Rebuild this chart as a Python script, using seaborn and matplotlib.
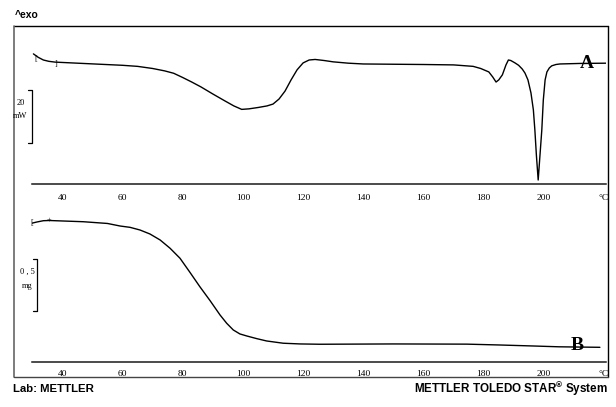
import matplotlib
matplotlib.use("Agg")
import matplotlib.pyplot as plt
import seaborn as sns
import pandas as pd
from matplotlib.lines import Line2D

# ---- data ----
dsc_temp = [30.4, 32, 33.7, 35.5, 37.6, 45, 52.5, 60, 65, 70,
            74, 77, 80, 83, 86, 90, 94, 97, 99.6, 102,
            105, 108, 110, 112, 114, 116, 118, 120, 122, 124,
            127, 130, 135, 140, 150, 160, 170, 176.5, 179, 181.7,
            183, 184.1, 185, 186.2, 187.4, 188.2, 189, 190.4, 191.6, 192.8,
            193.7, 194.7, 195.7, 196.5, 197, 197.5, 198.1, 198.7, 199.3, 199.8,
            200.4, 201, 201.8, 202.6, 204, 205.3, 212, 221]
dsc_mw = [3.4, 2.1, 1.1, 0.6, 0.3, -0.1, -0.5, -0.9, -1.3, -2.1,
          -3.0, -3.9, -5.5, -7.2, -9.0, -11.7, -14.3, -16.2, -17.5, -17.3,
          -16.8, -16.2, -15.5, -13.6, -10.6, -6.4, -2.6, 0.0, 1.1, 1.3,
          0.9, 0.4, -0.1, -0.4, -0.5, -0.6, -0.75, -1.3, -2.1, -3.4,
          -5.3, -7.2, -6.4, -4.5, -0.75, 1.1, 0.9, 0.0, -0.9, -2.3,
          -3.8, -6.4, -11.3, -17.7, -25.3, -34.7, -44.1, -34.7, -25.3, -14.0,
          -6.4, -3.4, -1.9, -1.1, -0.6, -0.4, -0.2, -0.1]

tga_temp = [29.8, 31.5, 33.7, 35.7, 47, 55, 59.2, 62.5, 65.8, 69.1,
            72.5, 75.8, 79.1, 82.4, 85.7, 89.1, 92.4, 94.6, 96.8, 99,
            101.3, 104.6, 107.9, 113.4, 119, 125.6, 150, 174.4, 185, 196.4,
            205, 218.6]
tga_mg = [1.242, 1.254, 1.267, 1.269, 1.257, 1.240, 1.215, 1.202, 1.176, 1.137,
          1.078, 0.997, 0.899, 0.761, 0.620, 0.483, 0.343, 0.262, 0.196, 0.157,
          0.137, 0.111, 0.088, 0.066, 0.059, 0.056, 0.059, 0.057, 0.049, 0.039,
          0.031, 0.026]

tick_values = list(range(30, 221, 10))
tick_labels = ["", "40", "", "60", "", "80", "", "100", "", "120", "", "140",
               "", "160", "", "180", "", "200", "", "°C"]

sns.set_style("white")
plt.rcParams["font.family"] = ["Liberation Serif", "DejaVu Serif"]
plt.rcParams["text.color"] = "black"

W, H = 616, 407
fig = plt.figure(figsize=(W / 100, H / 100), dpi=100)


def fx(px):
    return px / W


def fy(py):
    return 1 - py / H


left, right = 32, 605.7
ax1 = fig.add_axes([fx(left), fy(184), (right - left) / W, (184 - 26) / H])
ax2 = fig.add_axes([fx(left), fy(362), (right - left) / W, (362 - 200) / H])

df1 = pd.DataFrame({"T": dsc_temp, "HF": dsc_mw})
df2 = pd.DataFrame({"T": tga_temp, "m": tga_mg})
sns.lineplot(data=df1, x="T", y="HF", ax=ax1, color="black", lw=1.0, sort=False)
sns.lineplot(data=df2, x="T", y="m", ax=ax2, color="black", lw=1.0, sort=False)

ax1.set_ylim(-45.6, 13.9)
ax2.set_ylim(-0.118, 1.47)

for ax, pad in ((ax1, 3.0), (ax2, 1.5)):
    ax.set_xlim(29.93, 220.53)
    ax.patch.set_alpha(0)
    for s in ("top", "right", "left"):
        ax.spines[s].set_visible(False)
    ax.spines["bottom"].set_color("#1a1a1a")
    ax.spines["bottom"].set_linewidth(1.1)
    ax.set_yticks([])
    ax.set_xticks(tick_values)
    ax.set_xticklabels(tick_labels)
    ax.tick_params(axis="x", direction="out", length=4.5, width=0.9,
                   color="#1a1a1a", pad=pad, labelsize=6.8, labelcolor="black")
    ax.set_xlabel("")
    ax.set_ylabel("")

# curve-limit markers
ax1.text(31.3, 1.6, "[", fontsize=6, ha="center", va="center", color="black")
ax1.text(37.9, -0.4, "]", fontsize=6, ha="center", va="center", color="black")
ax2.text(30.0, 1.245, "[", fontsize=6, ha="center", va="center", color="black")
ax2.text(35.7, 1.272, "+", fontsize=6, ha="center", va="center", color="black")

# series letters
fig.text(fx(587), fy(64), "A", fontsize=14, fontweight="bold", ha="center", va="center",
         color="black")
fig.text(fx(577), fy(345), "B", fontsize=14, fontweight="bold", ha="center", va="center",
         color="black")

# outer frame
fig.add_artist(Line2D([fx(14), fx(608)], [fy(26), fy(26)], color="black", lw=1.0))
fig.add_artist(Line2D([fx(14), fx(14)], [fy(26), fy(377)], color="#666666", lw=1.2))
fig.add_artist(Line2D([fx(608), fx(608)], [fy(26), fy(377)], color="black", lw=1.0))
fig.add_artist(Line2D([fx(14), fx(608)], [fy(377), fy(377)], color="#444444", lw=1.0))


# scale bars
def scalebar(x, y0, y1, t1, t2, ty1, ty2, tx):
    fig.add_artist(Line2D([fx(x - 4), fx(x), fx(x), fx(x - 4)],
                          [fy(y0), fy(y0), fy(y1), fy(y1)], color="black", lw=0.9))
    fig.text(fx(tx), fy(ty1), t1, fontsize=6, ha="center", va="center", color="black")
    fig.text(fx(tx), fy(ty2), t2, fontsize=6, ha="center", va="center", color="black")


scalebar(32, 90, 143, "20", "mW", 103, 116, 20.5)
scalebar(36.5, 259, 311, "0 , 5", "mg", 272, 286, 27)

# header/footer texts
sans = ["Liberation Sans", "DejaVu Sans"]
fig.text(fx(15), fy(15), "^exo", fontsize=7.5, fontweight="bold", family=sans,
         ha="left", va="center", color="black")
fig.text(fx(13), fy(389), "Lab: METTLER", fontsize=8.2, fontweight="bold", family=sans,
         ha="left", va="center", color="black")
fig.text(fx(608), fy(389), "METTLER TOLEDO STAR$^{\\mathregular{®}}$ System",
         fontsize=8.4, fontweight="bold", family=sans, ha="right", va="center",
         color="black")

fig.savefig("out.png", dpi=100)
